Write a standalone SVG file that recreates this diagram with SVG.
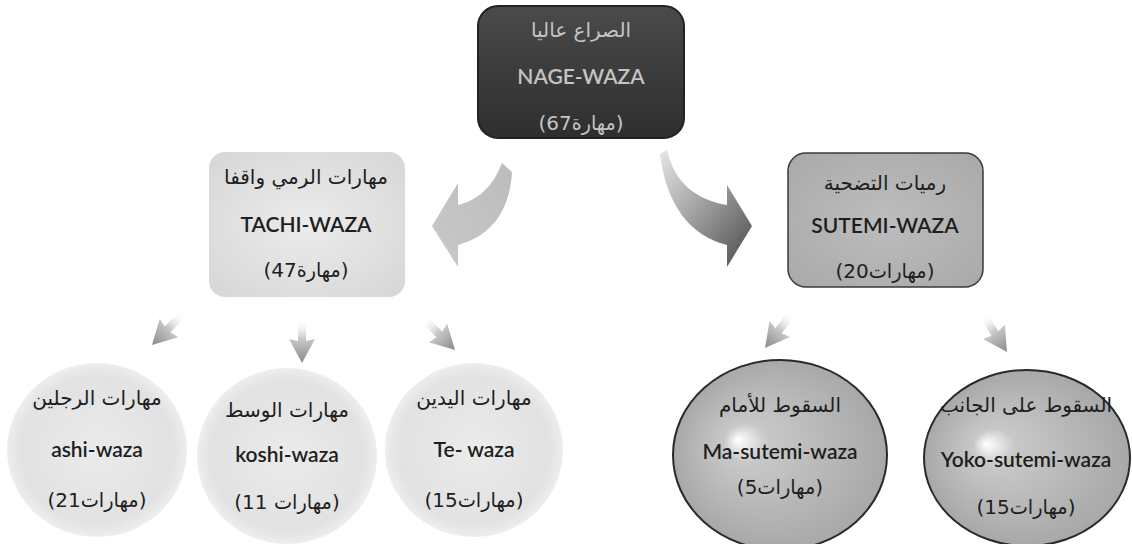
<svg xmlns="http://www.w3.org/2000/svg" width="1132" height="544" viewBox="0 0 1132 544">
<defs>
<style>
.t{font-family:Lato,"DejaVu Sans",sans-serif;font-size:21px;font-weight:600;fill:#1e1e1e;text-anchor:middle}
.ar{font-family:"DejaVu Sans",sans-serif;font-size:20px;fill:#1e1e1e;text-anchor:middle}
.lt{fill:#c4c4c4}
</style>
<linearGradient id="gTop" x1="0" y1="0" x2="0" y2="1"><stop offset="0" stop-color="#4a4a4a"/><stop offset="1" stop-color="#2e2e2e"/></linearGradient>
<radialGradient id="gTachi" cx="0.5" cy="0.5" r="0.7"><stop offset="0" stop-color="#ececec"/><stop offset="1" stop-color="#d6d6d6"/></radialGradient>
<radialGradient id="gSut" cx="0.5" cy="0.5" r="0.7"><stop offset="0" stop-color="#bdbdbd"/><stop offset="1" stop-color="#a9a9a9"/></radialGradient>
<radialGradient id="gLight" cx="0.5" cy="0.5" r="0.5"><stop offset="0" stop-color="#ebebeb"/><stop offset="0.85" stop-color="#e2e2e2"/><stop offset="1" stop-color="#eeeeee"/></radialGradient>
<radialGradient id="gDark" cx="0.5" cy="0.5" r="0.5" fx="0.3" fy="0.42"><stop offset="0" stop-color="#ffffff"/><stop offset="0.2" stop-color="#c8c8c8"/><stop offset="1" stop-color="#a8a8a8"/></radialGradient>
<linearGradient id="gArrL" x1="1" y1="0" x2="0" y2="1"><stop offset="0" stop-color="#bcbcbc"/><stop offset="1" stop-color="#c8c8c8"/></linearGradient>
<linearGradient id="gArrR" x1="0" y1="0" x2="1" y2="1"><stop offset="0" stop-color="#e6e6e6"/><stop offset="0.5" stop-color="#9a9a9a"/><stop offset="1" stop-color="#4a4a4a"/></linearGradient>
<linearGradient id="gSmall" x1="0" y1="0" x2="0" y2="1"><stop offset="0" stop-color="#ffffff" stop-opacity="0"/><stop offset="0.45" stop-color="#c8c8c8"/><stop offset="1" stop-color="#8a8a8a"/></linearGradient>
<path id="sa" d="M -4,-44 L 4,-44 L 4,-22 L 13,-24 L 0,0 L -13,-24 L -4,-22 Z" fill="url(#gSmall)"/>
</defs>
<rect width="1132" height="544" fill="#ffffff"/>

<g id="connectors">
<path d="M 502,163 C 492,188 478,200 458,205 L 458,183 L 432,226 L 458,267 L 458,245 C 492,236 510,210 512,172 Z" fill="url(#gArrL)"/>
<path d="M 667,150 C 674,182 696,200 727,205 L 727,185 L 752,226 L 727,267 L 727,245 C 690,236 666,204 660,154 Z" fill="url(#gArrR)"/>
<use href="#sa" transform="translate(152,345) rotate(45)"/>
<use href="#sa" transform="translate(302,363)"/>
<use href="#sa" transform="translate(455,350) rotate(-45)"/>
<use href="#sa" transform="translate(765,348) rotate(38)"/>
<use href="#sa" transform="translate(1007,352) rotate(-33)"/>
</g>

<g id="nage">
<rect x="478" y="6" width="206" height="132" rx="20" fill="url(#gTop)" stroke="#222" stroke-width="2"/>
<text class="ar lt" x="581" y="37">الصراع عاليا</text>
<text class="t lt" x="581" y="84">NAGE-WAZA</text>
<text class="ar lt" x="555.1" y="130">(67</text>
<text class="ar lt" x="593.7" y="130" textLength="44" lengthAdjust="spacingAndGlyphs">مهارة</text>
<text class="ar lt" x="619.6" y="130">)</text>
</g>

<g id="tachi">
<rect x="209" y="152" width="196" height="145" rx="16" fill="url(#gTachi)"/>
<text class="ar" x="306" y="184">مهارات الرمي واقفا</text>
<text class="t" x="306" y="232">TACHI-WAZA</text>
<text class="ar" x="280.1" y="277">(47</text>
<text class="ar" x="318.7" y="277" textLength="44" lengthAdjust="spacingAndGlyphs">مهارة</text>
<text class="ar" x="344.6" y="277">)</text>
</g>

<g id="sutemi">
<rect x="788" y="153" width="195" height="134" rx="18" fill="url(#gSut)" stroke="#3a3a3a" stroke-width="1.5"/>
<text class="ar" x="885" y="190">رميات التضحية</text>
<text class="t" x="885" y="233">SUTEMI-WAZA</text>
<text class="ar" x="852.1" y="278">(20</text>
<text class="ar" x="897.7" y="278" textLength="58" lengthAdjust="spacingAndGlyphs">مهارات</text>
<text class="ar" x="930.6" y="278">)</text>
</g>

<g id="ashi">
<ellipse cx="97" cy="450" rx="90" ry="87" fill="url(#gLight)"/>
<text class="ar" x="97" y="405">مهارات الرجلين</text>
<text class="t" x="97" y="457">ashi-waza</text>
<text class="ar" x="64.1" y="507">(21</text>
<text class="ar" x="109.7" y="507" textLength="58" lengthAdjust="spacingAndGlyphs">مهارات</text>
<text class="ar" x="142.6" y="507">)</text>
</g>

<g id="koshi">
<ellipse cx="287" cy="456" rx="90" ry="88" fill="url(#gLight)"/>
<text class="ar" x="287" y="417">مهارات الوسط</text>
<text class="t" x="287" y="462">koshi-waza</text>
<text class="ar" x="250.9" y="509">(11</text>
<text class="ar" x="302.9" y="509" textLength="58" lengthAdjust="spacingAndGlyphs">مهارات</text>
<text class="ar" x="335.8" y="509">)</text>
</g>

<g id="te">
<ellipse cx="474" cy="450" rx="89" ry="87" fill="url(#gLight)"/>
<text class="ar" x="474" y="405">مهارات اليدين</text>
<text class="t" x="474" y="457">Te- waza</text>
<text class="ar" x="441.1" y="507">(15</text>
<text class="ar" x="486.7" y="507" textLength="58" lengthAdjust="spacingAndGlyphs">مهارات</text>
<text class="ar" x="519.6" y="507">)</text>
</g>

<g id="ma">
<ellipse cx="780" cy="455" rx="107" ry="95" fill="url(#gDark)" stroke="#2a2a2a" stroke-width="2"/>
<text class="ar" x="780" y="412">السقوط للأمام</text>
<text class="t" x="780" y="459">Ma-sutemi-waza</text>
<text class="ar" x="747.1" y="494">(5</text>
<text class="ar" x="786.35" y="494" textLength="58" lengthAdjust="spacingAndGlyphs">مهارات</text>
<text class="ar" x="819.25" y="494">)</text>
</g>

<g id="yoko">
<ellipse cx="1027" cy="458" rx="103" ry="88" fill="url(#gDark)" stroke="#2a2a2a" stroke-width="2"/>
<text class="ar" x="1026" y="412">السقوط على الجانب</text>
<text class="t" x="1026" y="467">Yoko-sutemi-waza</text>
<text class="ar" x="993.1" y="514">(15</text>
<text class="ar" x="1038.7" y="514" textLength="58" lengthAdjust="spacingAndGlyphs">مهارات</text>
<text class="ar" x="1071.6" y="514">)</text>
</g>
</svg>
